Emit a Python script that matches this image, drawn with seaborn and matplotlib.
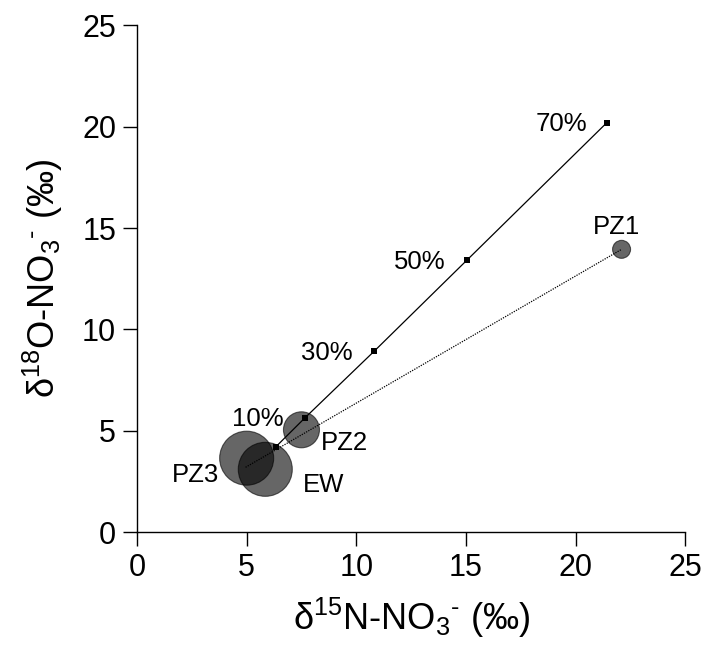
import matplotlib
matplotlib.use("Agg")
import matplotlib.pyplot as plt
import seaborn as sns
import pandas as pd

# ---- data ----
sites = ["PZ1", "PZ2", "PZ3", "EW"]
d15n = [22.1, 7.5, 5.0, 5.85]
d18o = [13.95, 5.05, 3.65, 3.1]
bubble = [1, 4, 9, 9]

frac_labels = ["0%", "10%", "30%", "50%", "70%"]
frac_x = [6.33, 7.66, 10.83, 15.04, 21.43]
frac_y = [4.21, 5.64, 8.94, 13.41, 20.2]

trend_x = [4.95, 22.1]
trend_y = [3.2, 13.95]

ticks = [0, 5, 10, 15, 20, 25]

sns.set_style("ticks", rc={"text.color": "black", "axes.labelcolor": "black",
                           "xtick.color": "black", "ytick.color": "black",
                           "axes.edgecolor": "black"})
plt.rcParams["font.family"] = ["Liberation Sans", "DejaVu Sans"]
plt.rcParams["mathtext.fontset"] = "custom"
plt.rcParams["mathtext.rm"] = "Liberation Sans"
plt.rcParams["mathtext.it"] = "Liberation Sans"

fig = plt.figure(figsize=(7.1, 6.49), dpi=100)
ax = fig.add_axes([0.193, 0.180, 0.772, 0.781])

df = pd.DataFrame({"x": d15n, "y": d18o, "site": sites, "b": bubble})
sns.scatterplot(data=df, x="x", y="y", size="b", sizes=(168, 1512),
                color="black", alpha=0.6, edgecolor="black", linewidth=0.8,
                legend=False, ax=ax, zorder=2)

sns.lineplot(x=trend_x, y=trend_y, color="black", lw=0.9, linestyle=(0, (1, 1)),
             ax=ax, zorder=3)
sns.lineplot(x=frac_x, y=frac_y, color="black", lw=0.9, ax=ax, zorder=3,
             marker="s", markersize=5, markeredgewidth=0, sort=False)

# fraction labels (skip 0%)
lab_pos = {"10%": (6.67, 5.56), "30%": (9.84, 8.86), "50%": (14.05, 13.33), "70%": (20.53, 20.12)}
for lab, (lx, ly) in lab_pos.items():
    ax.text(lx, ly, lab, ha="right", va="center", fontsize=18.5)

site_pos = {"PZ1": (21.85, 15.05), "PZ2": (9.44, 4.40), "EW": (8.51, 2.32), "PZ3": (2.65, 2.81)}
for s, (lx, ly) in site_pos.items():
    ax.text(lx, ly, s, ha="center", va="center", fontsize=18.5)

ax.set_xlim(0, 25)
ax.set_ylim(0, 25)
ax.set_xticks(ticks)
ax.set_yticks(ticks)
ax.tick_params(axis="both", labelsize=22, length=10, width=1, direction="out", pad=5)
for side in ["top", "right"]:
    ax.spines[side].set_visible(False)
for side in ["left", "bottom"]:
    ax.spines[side].set_linewidth(1)
    ax.spines[side].set_color("black")

hy = "\u2010"
ax.set_xlabel(r"δ$^{15}$N-NO$_3$$^{" + hy + r"}$ (‰)", fontsize=26, labelpad=9)
ax.set_ylabel(r"δ$^{18}$O-NO$_3$$^{" + hy + r"}$ (‰)", fontsize=26, labelpad=12)

fig.savefig("out.png", dpi=100)
